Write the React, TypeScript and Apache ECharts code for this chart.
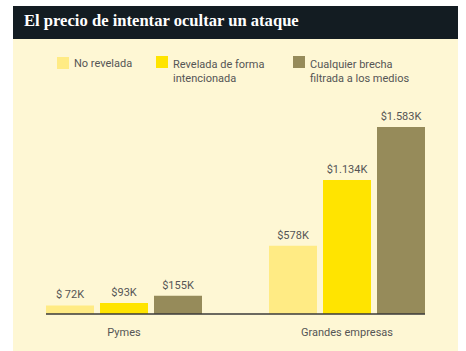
import React, { useEffect, useRef } from "react";
import * as echarts from "echarts";

const categories = ["Pymes", "Grandes empresas"];
const seriesNames = [
  "No revelada",
  "Revelada de forma\nintencionada",
  "Cualquier brecha\nfiltrada a los medios",
];
const noRevelada = [72, 578];
const revelada = [93, 1134];
const filtrada = [155, 1583];
const labelsNoRevelada = ["$ 72K", "$578K"];
const labelsRevelada = ["$93K", "$1.134K"];
const labelsFiltrada = ["$155K", "$1.583K"];

const colors = ["#ffeb84", "#ffe400", "#968b5a"];
const FONT = "Roboto, 'Noto Sans', sans-serif";
const TEXT = "#555555";
const tallIcon = "path://M0 0H12V12H0Z M0 29.99H0.01V30H0Z";

export default function App() {
  const ref = useRef<HTMLDivElement>(null);
  useEffect(() => {
    if (!ref.current) return;
    const chart = echarts.init(ref.current, undefined, { renderer: "svg" });
    const values = [noRevelada, revelada, filtrada];
    const labels = [labelsNoRevelada, labelsRevelada, labelsFiltrada];
    const legendPos = [57, 156, 293];
    chart.setOption({
      animation: false,
      backgroundColor: "#ffffff",
      textStyle: { fontFamily: FONT },
      graphic: [
        { type: "rect", shape: { x: 13, y: 6, width: 445, height: 33 }, style: { fill: "#131c22" }, z: -10 },
        { type: "rect", shape: { x: 13, y: 39, width: 445, height: 312 }, style: { fill: "#fef7d4" }, z: -10 },
        { type: "line", shape: { x1: 46, y1: 314, x2: 425, y2: 314 }, style: { stroke: "#3a3a3a", lineWidth: 1.6 }, z: 10 },
      ],
      title: {
        text: "El precio de intentar ocultar un ataque",
        left: 24,
        top: 12,
        padding: 0,
        textStyle: { color: "#ffffff", fontSize: 16.6, fontWeight: "bold", fontFamily: "'Liberation Serif', serif" },
      },
      legend: seriesNames.map((n, i) => ({
        data: [n],
        left: legendPos[i],
        top: 56,
        padding: 0,
        itemWidth: 12,
        itemHeight: i === 0 ? 12 : 30,
        icon: i === 0 ? "rect" : tallIcon,
        itemGap: 5,
        selectedMode: false,
        textStyle: { color: TEXT, fontSize: 11, lineHeight: 14, fontFamily: FONT },
      })),
      grid: { left: 12.5, right: 7.5, top: 127, bottom: 37, containLabel: false },
      xAxis: {
        type: "category",
        data: categories,
        axisLine: { show: false },
        axisTick: { show: false },
        axisLabel: { color: TEXT, fontSize: 11, margin: 13, fontFamily: FONT },
      },
      yAxis: { type: "value", min: 0, max: "dataMax", show: false, splitLine: { show: false } },
      series: seriesNames.map((n, i) => ({
        type: "bar",
        name: n,
        data: values[i],
        barWidth: 48,
        barGap: "12.5%",
        itemStyle: { color: colors[i] },
        label: {
          show: true,
          position: "top",
          distance: 5,
          color: TEXT,
          fontSize: 11,
          fontFamily: FONT,
          formatter: (p: any) => labels[i][p.dataIndex],
        },
      })),
    });
    return () => chart.dispose();
  }, []);
  return (
    <div
      ref={ref}
      style={{ position: "fixed", left: 0, top: 0, width: 466, height: 351, background: "#fff" }}
    />
  );
}
